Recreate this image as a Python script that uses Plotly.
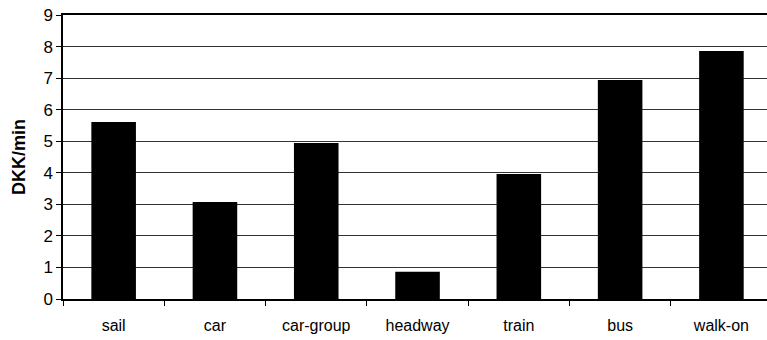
import plotly.graph_objects as go

categories = ["sail", "car", "car-group", "headway", "train", "bus", "walk-on"]
values = [5.61, 3.07, 4.94, 0.86, 3.96, 6.94, 7.86]
y_ticks = [0, 1, 2, 3, 4, 5, 6, 7, 8, 9]

fig = go.Figure(go.Bar(x=categories, y=values, marker=dict(color="black", line=dict(width=0)),
                       hoverinfo="skip"))

fig.update_layout(
    width=767, height=340,
    margin=dict(l=63, r=0, t=15, b=41, autoexpand=False),
    plot_bgcolor="white", paper_bgcolor="white",
    bargap=0.56,
    showlegend=False,
    font=dict(family="Liberation Sans, Arial, sans-serif", color="black"),
)
fig.update_xaxes(
    range=[-0.5, 6.45], automargin=False,
    showline=True, linecolor="black", linewidth=1.5, mirror=True,
    ticks="outside", tickson="boundaries", ticklen=5, tickcolor="black",
    tickfont=dict(size=16), showgrid=False, ticklabelstandoff=11,
)
fig.update_yaxes(
    range=[0, 9], tickvals=y_ticks, automargin=False,
    showline=True, linecolor="black", linewidth=1.5,
    ticks="outside", ticklen=5, tickcolor="black",
    tickfont=dict(size=17), ticklabeloverflow="allow",
    showgrid=True, gridcolor="#333333", gridwidth=1,
    zeroline=False,
    title=dict(text="<b>DKK/min</b>", font=dict(size=18), standoff=13),
)

fig.write_html("out.html", config={"displayModeBar": False},
               post_script="document.body.style.margin='0';")
